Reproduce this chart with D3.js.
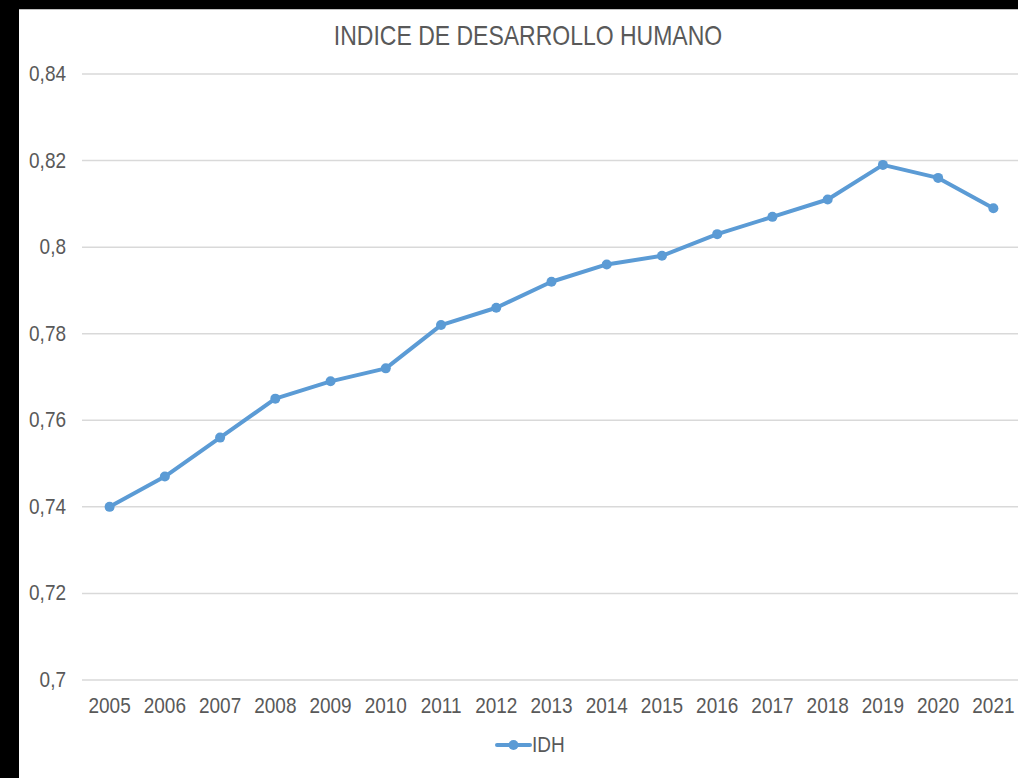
<!DOCTYPE html>
<html>
<head>
<meta charset="utf-8">
<script src="https://cdn.jsdelivr.net/npm/d3@7"></script>
<style>
  body { margin: 0; background: #000; }
  svg { display: block; }
  text { font-family: "Liberation Sans", Arial, sans-serif; fill: #595959; }
</style>
</head>
<body>
<div id="chart"></div>
<script>
// data
var years = ["2005", "2006", "2007", "2008", "2009", "2010", "2011", "2012", "2013",
  "2014", "2015", "2016", "2017", "2018", "2019", "2020", "2021"];
var idh = [0.740, 0.747, 0.756, 0.765, 0.769, 0.772, 0.782, 0.786, 0.792,
  0.796, 0.798, 0.803, 0.807, 0.811, 0.819, 0.816, 0.809];
var yTicks = [0.7, 0.72, 0.74, 0.76, 0.78, 0.8, 0.82, 0.84];

var svgWidth = 1018;
var svgHeight = 778;
var stretch = 1.17; // text in the reference is taller than wide

var svg = d3.select("#chart")
  .append("svg")
  .attr("width", svgWidth)
  .attr("height", svgHeight);

// black frame on left and top
svg.append("rect").attr("width", svgWidth).attr("height", svgHeight).attr("fill", "#000");
svg.append("rect")
  .attr("x", 19).attr("y", 9)
  .attr("width", svgWidth - 19).attr("height", svgHeight - 9)
  .attr("fill", "#fff");
svg.append("line")
  .attr("x1", 19).attr("x2", svgWidth)
  .attr("y1", 9.5).attr("y2", 9.5)
  .attr("stroke", "#bfbfbf").attr("stroke-width", 1);

var xScale = d3.scaleBand()
  .domain(years)
  .range([82, 1021]);

var yScale = d3.scaleLinear()
  .domain([0.7, 0.84])
  .range([680, 74]);

// gridlines
svg.append("g")
  .selectAll("line")
  .data(yTicks)
  .enter()
  .append("line")
  .attr("x1", 82)
  .attr("x2", svgWidth)
  .attr("y1", d => yScale(d))
  .attr("y2", d => yScale(d))
  .attr("stroke", "#d9d9d9")
  .attr("stroke-width", 1.5);

var fmt = d => String(+d.toFixed(2)).replace(".", ",");

// y tick labels
svg.append("g")
  .selectAll("text")
  .data(yTicks)
  .enter()
  .append("text")
  .attr("text-anchor", "end")
  .attr("font-size", "19px")
  .attr("transform", d => `translate(66, ${yScale(d) + 7}) scale(1, ${stretch})`)
  .text(fmt);

// x tick labels
svg.append("g")
  .selectAll("text")
  .data(years)
  .enter()
  .append("text")
  .attr("text-anchor", "middle")
  .attr("font-size", "19px")
  .attr("transform", d => `translate(${xScale(d) + xScale.bandwidth() / 2}, 713) scale(1, ${stretch})`)
  .text(d => d);

// title
svg.append("text")
  .attr("text-anchor", "middle")
  .attr("font-size", "23px")
  .attr("transform", `translate(528, 45) scale(1, ${stretch})`)
  .text("INDICE DE DESARROLLO HUMANO");

var color = "#5b9bd5";
var xc = d => xScale(d) + xScale.bandwidth() / 2;

var line = d3.line()
  .x((d, i) => xc(years[i]))
  .y(d => yScale(d));

svg.append("path")
  .datum(idh)
  .attr("d", line)
  .attr("fill", "none")
  .attr("stroke", color)
  .attr("stroke-width", 4)
  .attr("stroke-linejoin", "round")
  .attr("stroke-linecap", "round");

svg.append("g")
  .selectAll("circle")
  .data(idh)
  .enter()
  .append("circle")
  .attr("cx", (d, i) => xc(years[i]))
  .attr("cy", d => yScale(d))
  .attr("r", 5)
  .attr("fill", color);

// legend
var legend = svg.append("g");
legend.append("line")
  .attr("x1", 497).attr("x2", 530)
  .attr("y1", 745).attr("y2", 745)
  .attr("stroke", color).attr("stroke-width", 4)
  .attr("stroke-linecap", "round");
legend.append("circle")
  .attr("cx", 513.5).attr("cy", 745).attr("r", 5)
  .attr("fill", color);
legend.append("text")
  .attr("font-size", "19px")
  .attr("transform", `translate(532, 752) scale(1, ${stretch})`)
  .text("IDH");
</script>
</body>
</html>
